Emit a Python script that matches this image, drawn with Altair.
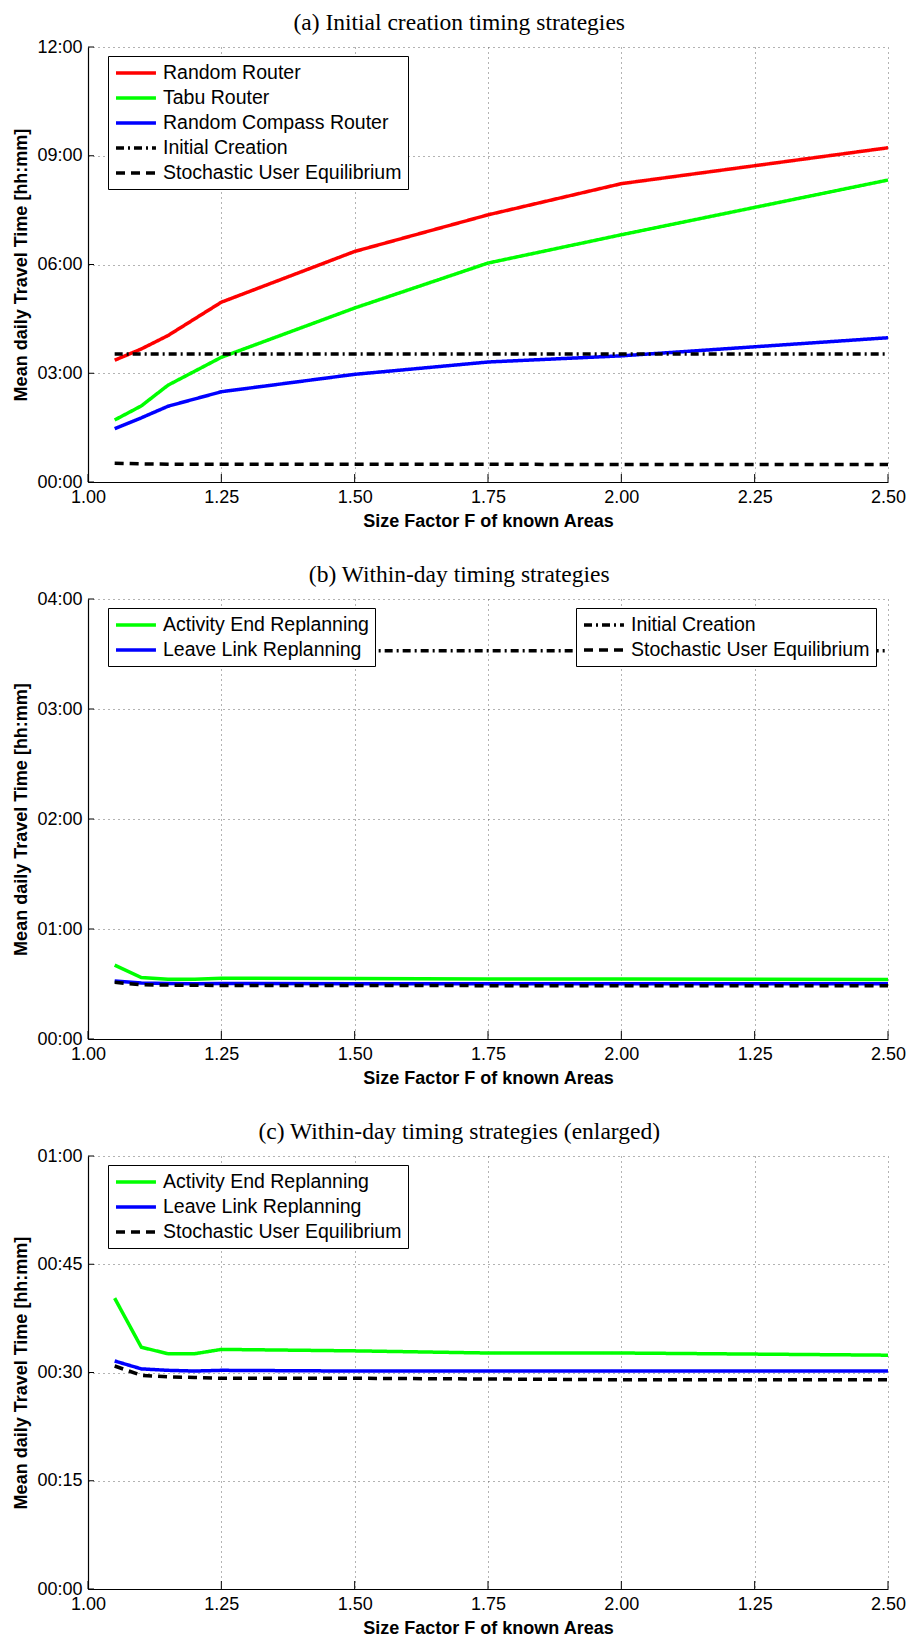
import altair as alt
import pandas as pd

SANS = "Liberation Sans, Arial, sans-serif"
SERIF = "Liberation Serif, Times New Roman, serif"

# ---------------- data ----------------
# Panel (a): travel time in hours
size_factor_a = [1.05, 1.10, 1.15, 1.25, 1.50, 1.75, 2.00, 2.50]
random_router_h = [3.36, 3.67, 4.04, 4.96, 6.36, 7.37, 8.23, 9.22]
tabu_router_h = [1.71, 2.10, 2.67, 3.44, 4.80, 6.04, 6.82, 8.33]
random_compass_router_h = [1.47, 1.77, 2.09, 2.49, 2.97, 3.31, 3.48, 3.98]
initial_creation_a_h = [3.53, 3.53, 3.53, 3.53, 3.53, 3.53, 3.53, 3.53]
sue_a_h = [0.52, 0.50, 0.49, 0.49, 0.49, 0.49, 0.48, 0.48]

# Panels (b) and (c): travel time in minutes
size_factor_bc = [1.05, 1.10, 1.15, 1.20, 1.25, 1.50, 1.75, 2.00, 2.50]
activity_end_min = [40.3, 33.5, 32.6, 32.6, 33.2, 33.0, 32.7, 32.7, 32.4]
leave_link_min = [31.6, 30.5, 30.3, 30.2, 30.3, 30.2, 30.2, 30.2, 30.2]
sue_min = [30.9, 29.6, 29.4, 29.3, 29.2, 29.2, 29.1, 29.0, 29.0]
initial_creation_b_h = [3.53, 3.53, 3.53, 3.53, 3.53, 3.53, 3.53, 3.53, 3.53]

x_ticks = [1.00, 1.25, 1.50, 1.75, 2.00, 2.25, 2.50]
y_ticks_a = [0, 3, 6, 9, 12]
y_ticks_b = [0, 1, 2, 3, 4]
y_ticks_c = [0, 15, 30, 45, 60]

titles = ["(a) Initial creation timing strategies",
          "(b) Within-day timing strategies",
          "(c) Within-day timing strategies (enlarged)"]
x_title = "Size Factor F of known Areas"
y_title = "Mean daily Travel Time [hh:mm]"

W = 800
H_A, H_B, H_C = 435, 440, 433
LW = 3.5
SYM = "M-1,0H3.44"


def long_df(xs, named):
    rows = []
    for name, vals in named:
        for xv, yv in zip(xs, vals):
            rows.append({"x": xv, "y": yv, "series": name})
    return pd.DataFrame(rows)


def legend(lx, ly, **kw):
    return alt.Legend(title=None, orient="none", legendX=lx, legendY=ly,
                      symbolType=SYM, symbolSize=324, symbolStrokeWidth=LW,
                      labelOffset=27, labelFontSize=19.5, labelFont=SANS,
                      labelColor="black", padding=6, rowPadding=4,
                      fillColor="white", strokeColor="black", cornerRadius=0,
                      zindex=1, labelLimit=0, **kw)


def x_axis(typo):
    expr = "datum.value == 2.25 ? '1.25' : format(datum.value, '.2f')" if typo \
        else "format(datum.value, '.2f')"
    return alt.Axis(values=x_ticks, labelExpr=expr, title=x_title, labelFlush=False,
                    labelOverlap=False, grid=True)


def y_axis(vals, minutes=False):
    if minutes:
        expr = "datum.value == 60 ? '01:00' : '00:' + (datum.value < 10 ? '0' : '') + datum.value"
    else:
        expr = "(datum.value < 10 ? '0' : '') + datum.value + ':00'"
    return alt.Axis(values=vals, labelExpr=expr, title=y_title, grid=True,
                    labelOverlap=False)


def tick_layers(xs, ys, xsc, ysc, xax, yax, h):
    xt = alt.Chart(pd.DataFrame({"x": xs})).mark_rule(color="black", strokeWidth=1).encode(
        x=alt.X("x:Q", scale=xsc, axis=xax),
        y=alt.value(h), y2=alt.value(h - 8))
    yt = alt.Chart(pd.DataFrame({"y": ys})).mark_rule(color="black", strokeWidth=1).encode(
        y=alt.Y("y:Q", scale=ysc, axis=yax),
        x=alt.value(0), x2=alt.value(6))
    return xt, yt


def title(t):
    return alt.TitleParams(t, font=SERIF, fontSize=23.5, fontWeight="normal",
                           anchor="middle", frame="bounds", offset=4, color="black")


xsc = alt.Scale(domain=[1.0, 2.5], nice=False, zero=False)

# ---------------- panel (a) ----------------
series_a = ["Random Router", "Tabu Router", "Random Compass Router",
            "Initial Creation", "Stochastic User Equilibrium"]
colors_a = ["#ff0000", "#00ff00", "#0000ff", "#000000", "#000000"]
dashes_a = [[1, 0], [1, 0], [1, 0], [8, 4, 2, 4], [9, 6]]
df_a = long_df(size_factor_a, list(zip(series_a, [random_router_h, tabu_router_h,
                                                    random_compass_router_h,
                                                    initial_creation_a_h, sue_a_h])))
ysc_a = alt.Scale(domain=[0, 12], nice=False)
xax_a = x_axis(False)
yax_a = y_axis(y_ticks_a)
leg_a = legend(20, 9)
lines_a = alt.Chart(df_a).mark_line(strokeWidth=LW, strokeCap="butt").encode(
    x=alt.X("x:Q", scale=xsc, axis=xax_a),
    y=alt.Y("y:Q", scale=ysc_a, axis=yax_a),
    color=alt.Color("series:N", scale=alt.Scale(domain=series_a, range=colors_a), legend=leg_a),
    strokeDash=alt.StrokeDash("series:N", scale=alt.Scale(domain=series_a, range=dashes_a), legend=leg_a),
)
xt_a, yt_a = tick_layers(x_ticks, y_ticks_a, xsc, ysc_a, xax_a, yax_a, H_A)
chart_a = alt.layer(lines_a, xt_a, yt_a).properties(width=W, height=H_A, title=title(titles[0]))

# ---------------- panel (b) ----------------
series_col = ["Activity End Replanning", "Leave Link Replanning"]
series_blk = ["Initial Creation", "Stochastic User Equilibrium"]
df_b_col = long_df(size_factor_bc, [(series_col[0], [v / 60 for v in activity_end_min]),
                                    (series_col[1], [v / 60 for v in leave_link_min])])
df_b_blk = long_df(size_factor_bc, [(series_blk[0], initial_creation_b_h),
                                    (series_blk[1], [v / 60 for v in sue_min])])
df_b_blk = df_b_blk.rename(columns={"series": "series2"})
ysc_b = alt.Scale(domain=[0, 4], nice=False)
xax_b = x_axis(True)
yax_b = y_axis(y_ticks_b)
lines_b1 = alt.Chart(df_b_col).mark_line(strokeWidth=LW, strokeCap="butt").encode(
    x=alt.X("x:Q", scale=xsc, axis=xax_b),
    y=alt.Y("y:Q", scale=ysc_b, axis=yax_b),
    color=alt.Color("series:N", scale=alt.Scale(domain=series_col, range=["#00ff00", "#0000ff"]),
                    legend=legend(20, 9)),
)
lines_b2 = alt.Chart(df_b_blk).mark_line(strokeWidth=LW, strokeCap="butt", color="black").encode(
    x=alt.X("x:Q", scale=xsc, axis=xax_b),
    y=alt.Y("y:Q", scale=ysc_b, axis=yax_b),
    strokeDash=alt.StrokeDash("series2:N", scale=alt.Scale(domain=series_blk, range=[[8, 4, 2, 4], [9, 6]]),
                              legend=legend(488, 9, symbolStrokeColor="black")),
)
xt_b, yt_b = tick_layers(x_ticks, y_ticks_b, xsc, ysc_b, xax_b, yax_b, H_B)
chart_b = alt.layer(lines_b1, lines_b2, xt_b, yt_b).properties(width=W, height=H_B, title=title(titles[1]))

# ---------------- panel (c) ----------------
series_c = ["Activity End Replanning", "Leave Link Replanning", "Stochastic User Equilibrium"]
df_c = long_df(size_factor_bc, list(zip(series_c, [activity_end_min, leave_link_min, sue_min])))
ysc_c = alt.Scale(domain=[0, 60], nice=False)
xax_c = x_axis(True)
yax_c = y_axis(y_ticks_c, minutes=True)
leg_c = legend(20, 9)
lines_c = alt.Chart(df_c).mark_line(strokeWidth=LW, strokeCap="butt").encode(
    x=alt.X("x:Q", scale=xsc, axis=xax_c),
    y=alt.Y("y:Q", scale=ysc_c, axis=yax_c),
    color=alt.Color("series:N", scale=alt.Scale(domain=series_c, range=["#00ff00", "#0000ff", "#000000"]), legend=leg_c),
    strokeDash=alt.StrokeDash("series:N", scale=alt.Scale(domain=series_c, range=[[1, 0], [1, 0], [9, 6]]), legend=leg_c),
)
xt_c, yt_c = tick_layers(x_ticks, y_ticks_c, xsc, ysc_c, xax_c, yax_c, H_C)
chart_c = alt.layer(lines_c, xt_c, yt_c).properties(width=W, height=H_C, title=title(titles[2]))

chart = alt.vconcat(chart_a, chart_b, chart_c, spacing=32).resolve_scale(
    color="independent", strokeDash="independent"
).resolve_legend(
    color="independent", strokeDash="independent"
).properties(
    padding={"left": 4, "top": 2, "right": 0, "bottom": 0}
).configure_view(stroke=None).configure_axis(
    domainColor="black", domainWidth=1.2, ticks=False,
    labelFont=SANS, labelFontSize=18, labelColor="black", labelPadding=6,
    titleFont=SANS, titleFontSize=18, titleFontWeight="bold", titleColor="black",
    titlePadding=6,
    gridColor="#666666", gridDash=[1, 4], gridOpacity=1, gridWidth=1,
)

chart.save("out.html", embed_options={"renderer": "svg", "actions": False})
